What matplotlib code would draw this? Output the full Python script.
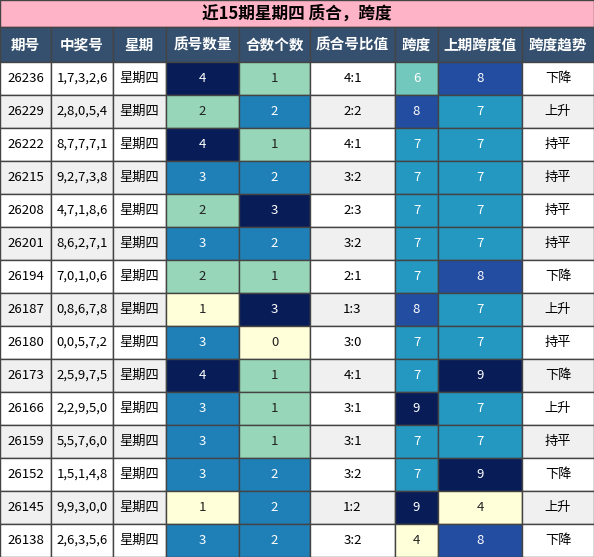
import matplotlib.pyplot as plt
from matplotlib.patches import Rectangle
from matplotlib import cm, colors

plt.rcParams['font.family'] = ['Noto Sans CJK SC', 'DejaVu Sans']

title = "近15期星期四 质合，跨度"
headers = ["期号", "中奖号", "星期", "质号数量", "合数个数", "质合号比值", "跨度", "上期跨度值", "跨度趋势"]
issues = ["26236", "26229", "26222", "26215", "26208", "26201", "26194", "26187", "26180",
          "26173", "26166", "26159", "26152", "26145", "26138"]
numbers = ["1,7,3,2,6", "2,8,0,5,4", "8,7,7,7,1", "9,2,7,3,8", "4,7,1,8,6", "8,6,2,7,1", "7,0,1,0,6",
           "0,8,6,7,8", "0,0,5,7,2", "2,5,9,7,5", "2,2,9,5,0", "5,5,7,6,0", "1,5,1,4,8", "9,9,3,0,0", "2,6,3,5,6"]
prime_cnt = [4, 2, 4, 3, 2, 3, 2, 1, 3, 4, 3, 3, 3, 1, 3]
comp_cnt = [1, 2, 1, 2, 3, 2, 1, 3, 0, 1, 1, 1, 2, 2, 2]
span = [6, 8, 7, 7, 7, 7, 7, 8, 7, 7, 9, 7, 7, 9, 4]
prev_span = [8, 7, 7, 7, 7, 7, 8, 7, 7, 9, 7, 7, 9, 4, 8]
trend = ["下降", "上升", "持平", "持平", "持平", "持平", "下降", "上升", "持平", "下降", "上升", "持平", "下降", "上升", "下降"]

W, H = 594, 557
col_x = [0, 51, 113, 166, 239, 310, 395, 438, 522, 594]
title_h, head_h = 27, 35
row_h = (H - title_h - head_h) / len(issues)

fig = plt.figure(figsize=(W / 100, H / 100), dpi=100)
ax = fig.add_axes([0, 0, 1, 1])
ax.set_xlim(0, W)
ax.set_ylim(H, 0)
ax.axis('off')
cmap = cm.get_cmap('YlGnBu') if hasattr(cm, 'get_cmap') else plt.colormaps['YlGnBu']
edge = '#444444'

ax.add_patch(Rectangle((0, 0), W, title_h, facecolor='#ffb3c6', edgecolor=edge, lw=1))
ax.text(W / 2, title_h / 2, title, ha='center', va='center', fontsize=12, fontweight='bold')

for j, h in enumerate(headers):
    ax.add_patch(Rectangle((col_x[j], title_h), col_x[j + 1] - col_x[j], head_h,
                           facecolor='#34506e', edgecolor=edge, lw=1))
    ax.text((col_x[j] + col_x[j + 1]) / 2, title_h + head_h / 2, h, ha='center', va='center',
            fontsize=10.5, fontweight='bold', color='white')

heat = {3: (prime_cnt, 1, 4), 4: (comp_cnt, 0, 3), 6: (span, 4, 9), 7: (prev_span, 4, 9)}
for i in range(len(issues)):
    y = title_h + head_h + i * row_h
    ratio = f"{prime_cnt[i]}:{comp_cnt[i]}"
    row = [issues[i], numbers[i], "星期四", prime_cnt[i], comp_cnt[i], ratio, span[i], prev_span[i], trend[i]]
    bg = 'white' if i % 2 == 0 else '#f0f0f0'
    for j, v in enumerate(row):
        fc, tc = bg, 'black'
        if j in heat:
            vals, lo, hi = heat[j]
            t = (v - lo) / (hi - lo)
            fc = cmap(t)
            tc = 'white' if t >= 0.4 else '#222222'
        ax.add_patch(Rectangle((col_x[j], y), col_x[j + 1] - col_x[j], row_h,
                               facecolor=fc, edgecolor=edge, lw=1))
        ax.text((col_x[j] + col_x[j + 1]) / 2, y + row_h / 2, str(v), ha='center', va='center',
                fontsize=9.5, color=tc)

fig.savefig('out.png', dpi=100)
